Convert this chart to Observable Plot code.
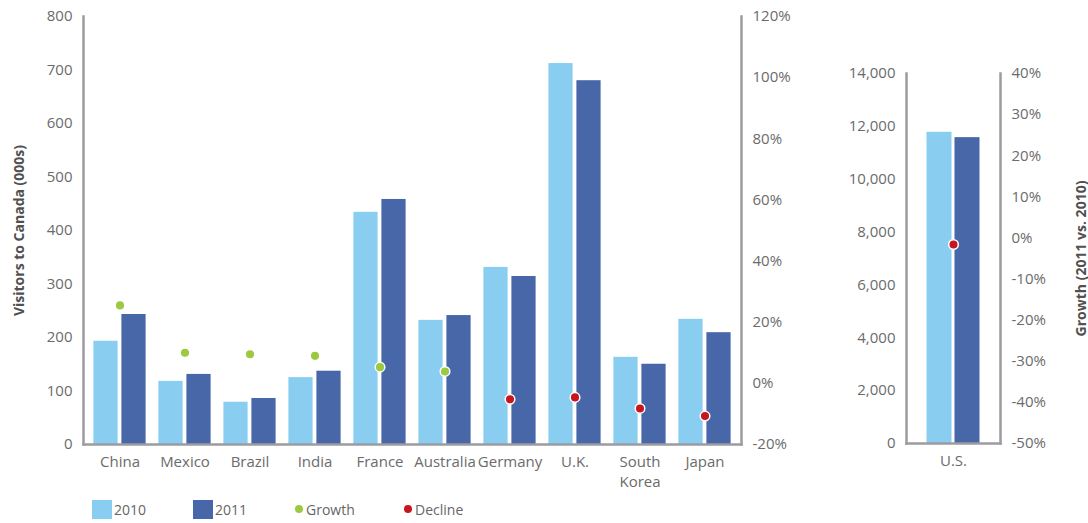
<!DOCTYPE html>
<html>
<head>
<meta charset="utf-8">
<script src="https://cdn.jsdelivr.net/npm/d3@7"></script>
<script src="https://cdn.jsdelivr.net/npm/@observablehq/plot@0.6"></script>
<style>
  body { margin: 0; background: #fff; font-family: "Open Sans", sans-serif; }
  #chart { position: relative; width: 1088px; height: 523px; overflow: hidden; }
  #main { position: absolute; left: 0; top: 0; }
  #us { position: absolute; left: 820px; top: 0; }
  #legend { position: absolute; left: 0; top: 499px; width: 600px; height: 22px; font-size: 14px; color: #666; }
  .item { position: absolute; top: 0; height: 20px; display: flex; align-items: center; }
  .sq { width: 20px; height: 19px; margin-right: 2px; }
  .dt { width: 8px; height: 8px; border-radius: 50%; margin-right: 3px; }
</style>
</head>
<body>
<div id="chart">
  <div id="main"></div>
  <div id="us"></div>
  <div id="legend"></div>
</div>
<script>
// Visitors to Canada (thousands) by origin country, 2010 and 2011
const countries = ["China", "Mexico", "Brazil", "India", "France", "Australia", "Germany", "U.K.", "South Korea", "Japan"];
const visitors2010 = [193, 118, 79, 125, 434, 232, 331, 712, 163, 234];
const visitors2011 = [243, 131, 86, 137, 458, 241, 314, 680, 150, 209];
const growthPct = [25.5, 10, 9.5, 9, 5.3, 3.9, -5.2, -4.6, -8.2, -10.7];

// United States, shown on its own scale
const usCountries = ["U.S."];
const usVisitors2010 = [11775];
const usVisitors2011 = [11573];
const usGrowthPct = [-1.6];

// Axis ticks
const visitorTicks = [0, 100, 200, 300, 400, 500, 600, 700, 800];
const growthTicks = [-20, 0, 20, 40, 60, 80, 100, 120];
const usVisitorTicks = [0, 2000, 4000, 6000, 8000, 10000, 12000, 14000];
const usGrowthTicks = [-50, -40, -30, -20, -10, 0, 10, 20, 30, 40];

const C2010 = "#89cdf1";
const C2011 = "#4767a8";
const GREEN = "#9bc93f";
const RED = "#c8161e";
const AXIS = "#9b9ba0";

function panel({names, v10, v11, pct, yTicks, pctTicks, width, height, ml, mr, mt, mb, leftLabel, rightLabel, leftLabelOffset, rightLabelOffset}) {
  const rows = names.map((name, i) => ({name, v10: v10[i], v11: v11[i], pct: pct[i]}));
  const yMax = yTicks[yTicks.length - 1];
  const pMin = pctTicks[0], pMax = pctTicks[pctTicks.length - 1];
  // growth is drawn on the visitors scale through a linear mapping
  const toY = p => (p - pMin) / (pMax - pMin) * yMax;
  const fromY = y => y / yMax * (pMax - pMin) + pMin;
  const band = (width - ml - mr) / names.length;
  const barW = 25, gap = 3;
  const outer = band / 2 - gap / 2 - barW;
  const inner = band / 2 + gap / 2;
  const axisStyle = {stroke: AXIS, strokeWidth: 2.5};
  return Plot.plot({
    width, height,
    marginLeft: ml, marginRight: mr, marginTop: mt, marginBottom: mb,
    style: {fontFamily: "'Open Sans', sans-serif", fontSize: "15px", color: "#6b6b6b", background: "transparent"},
    x: {type: "band", domain: names, padding: 0},
    y: {domain: [0, yMax]},
    marks: [
      Plot.barY(rows, {x: "name", y: "v10", fill: C2010, insetLeft: outer, insetRight: inner}),
      Plot.barY(rows, {x: "name", y: "v11", fill: C2011, insetLeft: inner, insetRight: outer}),
      Plot.frame({anchor: "left", ...axisStyle}),
      Plot.frame({anchor: "right", ...axisStyle}),
      Plot.frame({anchor: "bottom", ...axisStyle}),
      Plot.axisY(yTicks, {
        anchor: "left", tickSize: 0, tickPadding: 11, tickFormat: d3.format(","),
        label: leftLabel, labelAnchor: "center", labelOffset: leftLabelOffset, labelArrow: "none"
      }),
      Plot.axisY(pctTicks.map(toY), {
        anchor: "right", tickSize: 0, tickPadding: 11,
        tickFormat: d => Math.round(fromY(d)) + "%",
        label: rightLabel, labelAnchor: "center", labelOffset: rightLabelOffset, labelArrow: "none"
      }),
      Plot.axisX({tickSize: 0, tickPadding: 8, lineHeight: 1.35, tickFormat: d => d.replace(" ", "\n"), label: null}),
      Plot.dot(rows.filter(d => d.pct >= 0), {x: "name", y: d => toY(d.pct), r: 4.8, fill: GREEN, stroke: "#fff", strokeWidth: 1.5}),
      Plot.dot(rows.filter(d => d.pct < 0), {x: "name", y: d => toY(d.pct), r: 4.8, fill: RED, stroke: "#fff", strokeWidth: 1.5})
    ]
  });
}

const main = panel({
  names: countries, v10: visitors2010, v11: visitors2011, pct: growthPct,
  yTicks: visitorTicks, pctTicks: growthTicks,
  width: 800, height: 496, ml: 83, mr: 59, mt: 16, mb: 52,
  leftLabel: "Visitors to Canada (000s)", rightLabel: null, leftLabelOffset: 69, rightLabelOffset: 0
});
const us = panel({
  names: usCountries, v10: usVisitors2010, v11: usVisitors2011, pct: usGrowthPct,
  yTicks: usVisitorTicks, pctTicks: usGrowthTicks,
  width: 268, height: 496, ml: 86, mr: 88, mt: 73, mb: 53,
  leftLabel: null, rightLabel: "Growth (2011 vs. 2010)", leftLabelOffset: 0, rightLabelOffset: 85
});
document.getElementById("main").append(main);
document.getElementById("us").append(us);

// Axis titles in bold, darker gray
for (const svg of [main, us]) {
  svg.querySelectorAll("g[aria-label='y-axis label'] text").forEach(t => {
    t.setAttribute("font-weight", "bold");
    t.setAttribute("fill", "#505050");
    t.setAttribute("font-size", "14px");
  });
}

// Legend
const legendItems = [
  {label: "2010", kind: "sq", color: C2010, left: 92},
  {label: "2011", kind: "sq", color: C2011, left: 193},
  {label: "Growth", kind: "dt", color: GREEN, left: 295},
  {label: "Decline", kind: "dt", color: RED, left: 404}
];
const legend = document.getElementById("legend");
for (const it of legendItems) {
  const div = document.createElement("div");
  div.className = "item";
  div.style.left = it.left + "px";
  const mark = document.createElement("span");
  mark.className = it.kind;
  mark.style.background = it.color;
  const txt = document.createElement("span");
  txt.textContent = it.label;
  div.append(mark, txt);
  legend.append(div);
}
</script>
</body>
</html>
